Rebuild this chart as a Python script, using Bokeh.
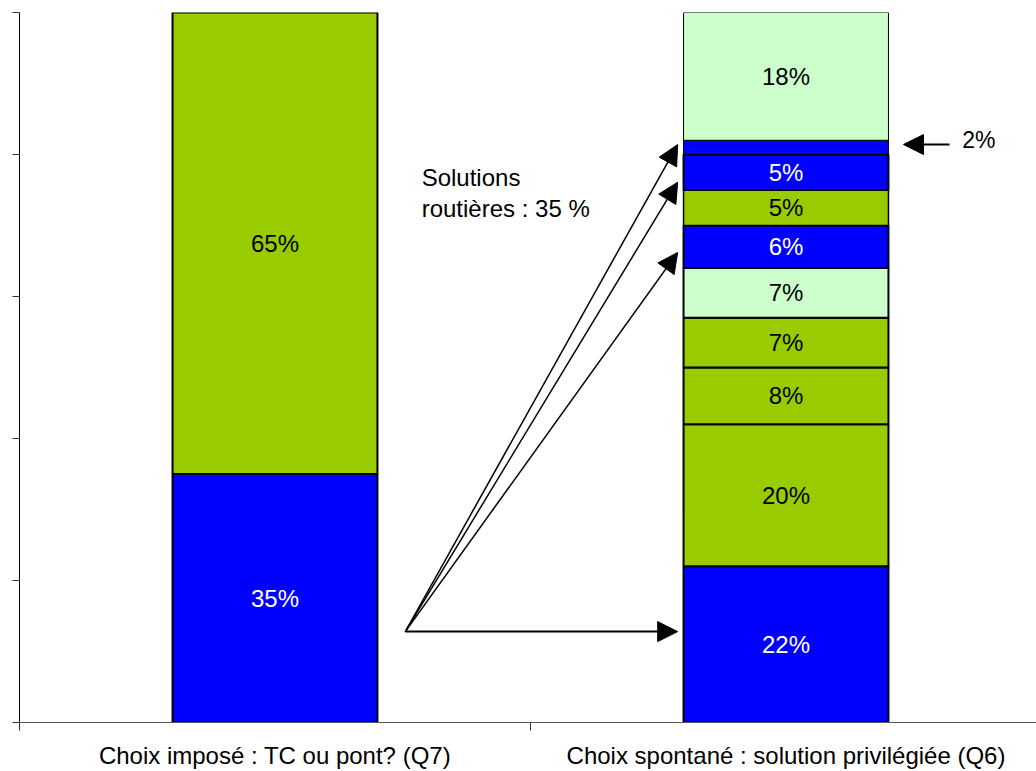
from bokeh.plotting import figure
from bokeh.models import ColumnDataSource, Range1d, FixedTicker, Arrow, NormalHead
from bokeh.core.properties import value
from bokeh.embed import file_html
from bokeh.resources import INLINE
import numpy as np

FONT = "Liberation Sans"
BLUE = "#0000FF"
GREEN = "#99CC00"
LIGHT = "#CCFFCC"

# ---- data ----
categories = ["Choix imposé : TC ou pont? (Q7)",
              "Choix spontané : solution privilégiée (Q6)"]
left_values = [35, 65]
left_labels = ["35%", "65%"]
left_colors = [BLUE, GREEN]
left_widths = [2, 2]

right_values = [22, 20, 8, 7, 7, 6, 5, 5, 2, 18]
right_labels = ["22%", "20%", "8%", "7%", "7%", "6%", "5%", "5%", "", "18%"]
right_colors = [BLUE, GREEN, GREEN, GREEN, LIGHT, BLUE, GREEN, BLUE, BLUE, LIGHT]
right_widths = [2, 2, 2, 2, 2, 2, 1.5, 2, 1, 1]

y_ticks = [0, 20, 40, 60, 80, 100]

# annotation arrows (data coordinates)
arrow_x0 = [0.755, 0.755, 0.755, 0.755, 1.820]
arrow_y0 = [12.8, 12.8, 12.8, 12.8, 81.4]
arrow_x1 = [1.288, 1.288, 1.288, 1.288, 1.730]
arrow_y1 = [12.8, 81.4, 76.1, 66.2, 81.4]
arrow_w = [2, 1.5, 1.5, 1.5, 2]

note_x = [0.787, 0.787]
note_y = [76.8, 72.4]
note_text = ["Solutions", "routières : 35 %"]
side_x = [1.845]
side_y = [82.0]
side_text = ["2%"]

bar_width = 0.401
x_pos = [0.5, 1.5]

p = figure(width=1036, height=771, output_backend="svg", toolbar_location=None,
           x_range=Range1d(0, 1017 / 511), y_range=Range1d(0, 100),
           min_border_left=19, min_border_right=0, min_border_top=12,
           min_border_bottom=49)
p.outline_line_color = None
p.xgrid.grid_line_color = None
p.ygrid.grid_line_color = None
p.background_fill_color = "white"
p.border_fill_color = "white"


def stack(xc, vals, labels, colors, widths):
    vals = np.array(vals, dtype=float)
    tops = np.cumsum(vals)
    bottoms = tops - vals
    tcol = ["white" if c == BLUE else "black" for c in colors]
    src = ColumnDataSource(dict(
        x=[xc] * len(vals), bottom=bottoms, top=tops, color=colors, lw=widths))
    p.vbar(x="x", width=bar_width, bottom="bottom", top="top", source=src,
           fill_color="color", line_color="black", line_width="lw")
    keep = [i for i, t in enumerate(labels) if t]
    lsrc = ColumnDataSource(dict(
        x=[xc] * len(keep),
        mid=[(bottoms[i] + tops[i]) / 2 for i in keep],
        label=[labels[i] for i in keep],
        tcolor=[tcol[i] for i in keep]))
    p.text(x="x", y="mid", text="label", source=lsrc, text_align="center",
           text_baseline="middle", text_color="tcolor",
           text_font=value(FONT), text_font_size="24px")


stack(x_pos[0], left_values, left_labels, left_colors, left_widths)
stack(x_pos[1], right_values, right_labels, right_colors, right_widths)

# arrows
for i in range(len(arrow_x0)):
    p.add_layout(Arrow(x_start=arrow_x0[i], y_start=arrow_y0[i],
                       x_end=arrow_x1[i], y_end=arrow_y1[i],
                       line_color="black", line_width=arrow_w[i],
                       end=NormalHead(size=20, fill_color="black",
                                      line_color="black", line_width=1)))

p.text(x=note_x, y=note_y, text=note_text, text_align="left",
       text_baseline="middle", text_color="black",
       text_font=value(FONT), text_font_size="24px")
p.text(x=side_x, y=side_y, text=side_text, text_align="left",
       text_baseline="middle", text_color="black",
       text_font=value(FONT), text_font_size="23px")

# axes
xa = p.xaxis[0]
xa.ticker = FixedTicker(ticks=x_pos, minor_ticks=[0, 1, 2])
xa.major_label_overrides = {x_pos[0]: categories[0], x_pos[1]: categories[1]}
xa.major_tick_out = 8
xa.major_tick_in = 0
xa.major_tick_line_color = None
xa.minor_tick_out = 8
xa.minor_tick_in = 0
xa.minor_tick_line_color = "#333333"
xa.axis_line_color = "#555555"
xa.major_label_standoff = 11
xa.major_label_text_font = FONT
xa.major_label_text_font_size = "24px"
xa.major_label_text_color = "black"

ya = p.yaxis[0]
ya.ticker = FixedTicker(ticks=y_ticks)
ya.major_tick_out = 7
ya.major_tick_in = 0
ya.minor_tick_line_color = None
ya.major_label_overrides = {t: "" for t in y_ticks}
ya.major_label_standoff = 0
ya.axis_line_color = "black"
ya.major_tick_line_color = "#333333"

open("out.html", "w").write(file_html(p, INLINE))
